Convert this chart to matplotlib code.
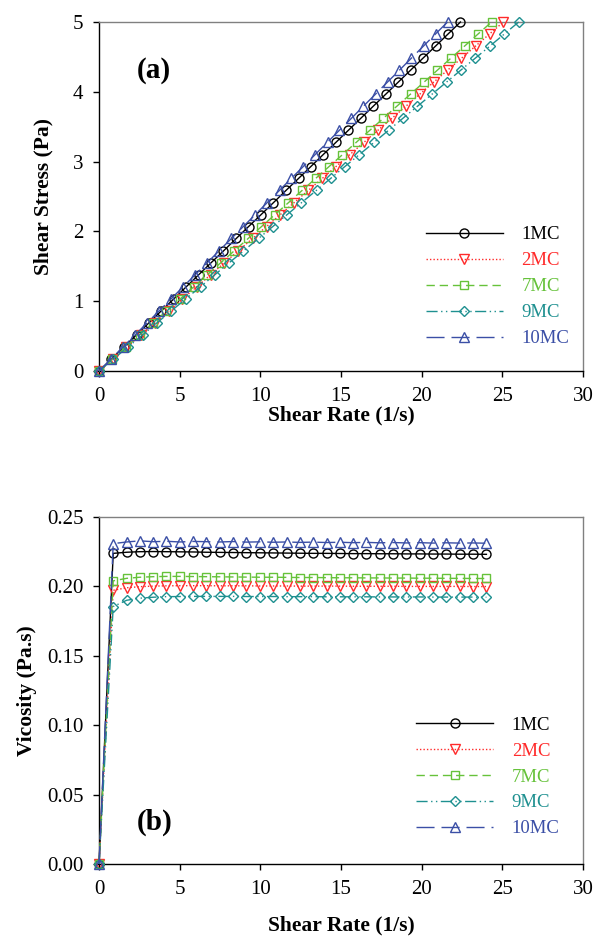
import matplotlib
matplotlib.use("Agg")
import matplotlib.pyplot as plt

plt.rcParams['font.family'] = ['Liberation Serif', 'DejaVu Serif']

# panel (a): stress-controlled ramp, shear rate of each sample
stress = [0, 0.17, 0.34, 0.52, 0.69, 0.86, 1.03, 1.21, 1.38, 1.55, 1.72, 1.90, 2.07, 2.24, 2.41,
          2.59, 2.76, 2.93, 3.10, 3.28, 3.45, 3.62, 3.79, 3.97, 4.14, 4.31, 4.48, 4.66, 4.83, 5.00]
rate_1mc = [0, 0.76, 1.52, 2.33, 3.09, 3.85, 4.62, 5.42, 6.18, 6.94, 7.71, 8.51, 9.27, 10.04, 10.80,
            11.60, 12.37, 13.13, 13.89, 14.70, 15.46, 16.22, 16.98, 17.79, 18.55, 19.31, 20.07, 20.88, 21.64, 22.40]
rate_2mc = [0, 0.85, 1.70, 2.61, 3.46, 4.31, 5.16, 6.07, 6.92, 7.77, 8.62, 9.52, 10.38, 11.23, 12.08,
            12.98, 13.84, 14.69, 15.54, 16.44, 17.29, 18.15, 19.00, 19.90, 20.75, 21.60, 22.46, 23.36, 24.21, 25.06]
rate_7mc = [0, 0.83, 1.65, 2.53, 3.36, 4.18, 5.01, 5.89, 6.72, 7.54, 8.37, 9.25, 10.07, 10.90, 11.73,
            12.60, 13.43, 14.26, 15.09, 15.96, 16.79, 17.62, 18.44, 19.32, 20.15, 20.97, 21.80, 22.68, 23.50, 24.33]
rate_9mc = [0, 0.88, 1.77, 2.71, 3.59, 4.47, 5.36, 6.30, 7.18, 8.06, 8.95, 9.89, 10.77, 11.65, 12.54,
            13.48, 14.36, 15.24, 16.13, 17.07, 17.95, 18.83, 19.72, 20.66, 21.54, 22.42, 23.31, 24.25, 25.13, 26.01]
rate_10mc = [0, 0.73, 1.47, 2.25, 2.98, 3.72, 4.45, 5.23, 5.96, 6.70, 7.43, 8.21, 8.94, 9.68, 10.41,
             11.19, 11.92, 12.66, 13.39, 14.17, 14.90, 15.64, 16.37, 17.15, 17.88, 18.62, 19.35, 20.13, 20.86, 21.60]

# panel (b): rate-controlled ramp, viscosity
rate_b = [0, 0.88, 1.71, 2.53, 3.36, 4.18, 5.01, 5.84, 6.66, 7.49, 8.31, 9.14, 9.97, 10.79, 11.62,
          12.44, 13.27, 14.10, 14.92, 15.75, 16.57, 17.40, 18.23, 19.05, 19.88, 20.70, 21.53, 22.36, 23.18, 24.01]
visc_1mc = [0, 0.2238, 0.2246, 0.2250, 0.2251, 0.2250, 0.2249, 0.2248, 0.2246, 0.2245, 0.2244, 0.2243, 0.2242, 0.2241, 0.2240,
            0.2239, 0.2238, 0.2238, 0.2237, 0.2236, 0.2236, 0.2235, 0.2235, 0.2234, 0.2234, 0.2233, 0.2233, 0.2232, 0.2232, 0.2231]
visc_2mc = [0, 0.1972, 0.1990, 0.1998, 0.2002, 0.2004, 0.2005, 0.2005, 0.2005, 0.2004, 0.2004, 0.2004, 0.2003, 0.2003, 0.2003,
            0.2002, 0.2002, 0.2002, 0.2002, 0.2001, 0.2001, 0.2001, 0.2001, 0.2000, 0.2000, 0.2000, 0.2000, 0.2000, 0.1999, 0.1999]
visc_7mc = [0, 0.2040, 0.2058, 0.2066, 0.2070, 0.2072, 0.2072, 0.2071, 0.2070, 0.2069, 0.2068, 0.2067, 0.2066, 0.2066, 0.2065,
            0.2064, 0.2064, 0.2063, 0.2062, 0.2062, 0.2061, 0.2061, 0.2060, 0.2060, 0.2059, 0.2059, 0.2058, 0.2058, 0.2057, 0.2057]
visc_9mc = [0, 0.1855, 0.1900, 0.1915, 0.1922, 0.1926, 0.1927, 0.1928, 0.1928, 0.1928, 0.1928, 0.1927, 0.1927, 0.1927, 0.1926,
            0.1926, 0.1926, 0.1925, 0.1925, 0.1925, 0.1925, 0.1924, 0.1924, 0.1924, 0.1924, 0.1923, 0.1923, 0.1923, 0.1923, 0.1922]
visc_10mc = [0, 0.2308, 0.2320, 0.2328, 0.2322, 0.2325, 0.2320, 0.2324, 0.2322, 0.2320, 0.2323, 0.2319, 0.2321, 0.2318, 0.2320,
             0.2317, 0.2319, 0.2316, 0.2318, 0.2315, 0.2317, 0.2314, 0.2316, 0.2313, 0.2315, 0.2312, 0.2314, 0.2312, 0.2313, 0.2311]

labels = ['1MC', '2MC', '7MC', '9MC', '10MC']
colores = ['black', '#ff2a2a', '#66c23a', '#1e9090', '#3b4fa6']
marcadores = ['o', 'v', 's', 'D', '^']
trazos = [None, (1, 1.5), (6, 3.5), (8, 2.5, 1, 2.5, 1, 2.5), (13, 5)]
tam_marcador = [6.5, 6.5, 6, 5.5, 6.5]

rates_a = [rate_1mc, rate_2mc, rate_7mc, rate_9mc, rate_10mc]
viscs_b = [visc_1mc, visc_2mc, visc_7mc, visc_9mc, visc_10mc]

fig = plt.figure(figsize=(5.98, 9.41), dpi=100)
ax1 = fig.add_axes([0.1656, 0.6057, 0.8094, 0.3709])
ax2 = fig.add_axes([0.1656, 0.0818, 0.8094, 0.3688])


def dibuja(ax, xs_list, ys_list):
    for i in range(5):
        ln, = ax.plot(xs_list[i], ys_list[i], color=colores[i], marker=marcadores[i],
                      markersize=tam_marcador[i], markerfacecolor='none', markeredgewidth=1.0,
                      linewidth=1.0, label=labels[i], clip_on=False, zorder=3)
        if trazos[i] is not None:
            ln.set_dashes(trazos[i])


def estilo(ax, xpad):
    ax.set_xlim(0, 30)
    ax.set_xticks(range(0, 31, 5))
    for s in ['top', 'right']:
        ax.spines[s].set_color('#808080')
    for s in ['left', 'bottom']:
        ax.spines[s].set_color('black')
    for s in ax.spines.values():
        s.set_linewidth(1.0)
    ax.tick_params(direction='out', length=4.3, width=1, pad=7, labelsize=15,
                   top=False, right=False)
    ax.set_xlabel('Shear Rate (1/s)', fontsize=15.5, fontweight='bold', labelpad=xpad)


def leyenda(ax, anchor):
    ax.legend(loc='upper left', bbox_to_anchor=anchor, frameon=False, fontsize=13.5,
              handlelength=4.1, handletextpad=1.0, labelspacing=0.47, borderpad=0,
              borderaxespad=0, labelcolor='linecolor')


# (a)
dibuja(ax1, rates_a, [stress] * 5)
estilo(ax1, 0)
ax1.set_ylim(0, 5)
ax1.set_yticks(range(0, 6))
ax1.set_ylabel('Shear Stress (Pa)', fontsize=15.5, fontweight='bold', labelpad=14)
ax1.text(0.078, 0.862, '(a)', transform=ax1.transAxes, fontsize=21, fontweight='bold', va='center')
leyenda(ax1, (0.675, 0.415))

# (b)
dibuja(ax2, [rate_b] * 5, viscs_b)
estilo(ax2, 12)
ax2.set_ylim(0, 0.25)
ax2.set_yticks([0, 0.05, 0.10, 0.15, 0.20, 0.25])
ax2.set_yticklabels(['0.00', '0.05', '0.10', '0.15', '0.20', '0.25'])
ax2.set_ylabel('Vicosity (Pa.s)', fontsize=15.5, fontweight='bold', labelpad=7)
ax2.text(0.078, 0.121, '(b)', transform=ax2.transAxes, fontsize=21, fontweight='bold', va='center')
leyenda(ax2, (0.655, 0.425))

fig.savefig('out.png', dpi=100)
